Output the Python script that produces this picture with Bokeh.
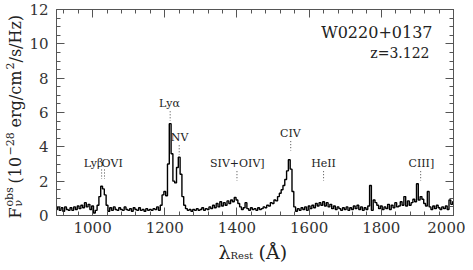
import math
from bokeh.plotting import figure
from bokeh.models import Range1d, LinearAxis, SingleIntervalTicker, Label, CustomJSTickFormatter
from bokeh.core.properties import value
from bokeh.embed import file_html
from bokeh.resources import INLINE

# ---------------- data ----------------
wave_start = 900
wave_step = 5
flux = [
    0.35, 0.50, 0.30, 0.45, 0.25, 0.50, 0.35, 0.30, 0.45, 0.30,   # 900-945
    0.50, 0.35, 0.55, 0.40, 0.60, 0.45, 0.75, 0.50, 0.65, 0.35,   # 950-995
    0.55, 0.15, 0.30, 0.60, 1.10, 1.70, 1.55, 1.20, 0.60, 0.25,   # 1000-1045
    0.45, 0.30, 0.50, 0.35, 0.30, 0.45, 0.35, 0.30, 0.50, 0.35,   # 1050-1095
    0.30, 0.40, 0.25, 0.45, 0.35, 0.30, 0.45, 0.30, 0.35, 0.25,   # 1100-1145
    0.40, 0.30, 0.35, 0.30, 0.40, 0.35, 0.50, 0.30, 0.60, 1.20,   # 1150-1195
    1.40, 1.15, 3.00, 5.35, 3.60, 2.00, 1.90, 2.80, 3.40, 2.40,   # 1200-1245
    1.10, 0.60, 0.40, 0.30, 0.35, 0.25, 0.35, 0.30, 0.40, 0.30,   # 1250-1295
    0.35, 0.45, 0.30, 0.40, 0.35, 0.50, 0.40, 0.60, 0.45, 0.70,   # 1300-1345
    0.50, 0.80, 0.55, 0.75, 0.60, 0.85, 0.70, 0.90, 0.80, 1.05,   # 1350-1395
    0.90, 0.70, 0.50, 0.35, 0.45, 0.75, 0.40, 0.30, 0.45, 0.35,   # 1400-1445
    0.40, 0.30, 0.45, 0.35, 0.40, 0.50, 0.45, 0.60, 0.55, 0.75,   # 1450-1495
    0.70, 0.90, 0.85, 1.10, 1.30, 1.50, 1.75, 2.10, 2.60, 3.25,   # 1500-1545
    2.70, 1.40, 0.50, 0.25, 0.40, 0.30, 0.45, 0.35, 0.50, 0.30,   # 1550-1595
    0.55, 0.40, 0.60, 0.45, 0.70, 0.55, 0.75, 0.60, 0.80, 0.55,   # 1600-1645
    0.75, 0.50, 0.65, 0.40, 0.55, 0.35, 0.50, 0.40, 0.30, 0.45,   # 1650-1695
    0.35, 0.50, 0.30, 0.45, 0.35, 0.55, 0.40, 0.60, 0.35, 0.50,   # 1700-1745
    0.30, 0.45, 0.35, 0.55, 1.75, 0.30, 0.90, 0.75, 0.60, 0.40,   # 1750-1795
    0.55, 0.35, 0.50, 0.40, 0.65, 0.35, 0.60, 0.45, 0.75, 0.50,   # 1800-1845
    0.55, 0.80, 0.60, 1.10, 0.55, 0.85, 0.60, 0.75, 0.95, 0.80,   # 1850-1895
    1.85, 0.90, 1.10, 0.95, 0.70, 0.55, 1.40, 0.50, 0.35, 0.55,   # 1900-1945
    0.40, 0.60, 0.45, 0.35, 0.50, 0.40, 0.55, 0.35, 0.90, 0.65,   # 1950-1995
    0.80,                                                         # 2000
]
wave = [wave_start + i * wave_step for i in range(len(flux))]

x_min, x_max = 900, 2000
y_min, y_max = 0, 12

line_names = ["Lyα", "NV", "SIV+OIV]", "CIV", "HeII", "CIII]"]
line_wave = [1213, 1241, 1401, 1548, 1640, 1911]
line_label_y = [6.52, 4.54, 3.03, 4.78, 3.03, 3.03]
line_mark_wave = [1215, 1240, 1400, 1549, 1640, 1909]

lyb_ovi_wave = [1025, 1033]
lyb_ovi_label_y = 3.03

object_name = "W0220+0137"
redshift_text = "z=3.122"

x_ticks_interval = 200
y_ticks_interval = 2

# ---------------- layout (canvas pixels of the data box) ----------------
W, H = 465, 262
BOX_L, BOX_R, BOX_T, BOX_B = 56, 453, 9, 215
sx = (BOX_R - BOX_L) / (x_max - x_min)
sy = (BOX_B - BOX_T) / (y_max - y_min)

def dx(px):
    return x_min + (px - BOX_L) / sx

def dy(py):
    return y_min + (BOX_B - py) / sy

FONT = "DejaVu Serif"
FRAME = "#555555"
TXT = "#222222"

p = figure(width=W, height=H, output_backend="svg", toolbar_location=None,
           x_range=Range1d(dx(0), dx(W)), y_range=Range1d(dy(H), dy(0)),
           min_border=0, x_axis_location=None, y_axis_location=None)
p.xgrid.visible = False
p.ygrid.visible = False
p.outline_line_color = None
p.background_fill_color = "white"
p.border_fill_color = "white"

xt = SingleIntervalTicker(interval=x_ticks_interval, num_minor_ticks=5)
yt = SingleIntervalTicker(interval=y_ticks_interval, num_minor_ticks=4)
blank = CustomJSTickFormatter(code="return '';")

ax_b = LinearAxis(ticker=xt, fixed_location=y_min, bounds=(x_min, x_max))
ax_t = LinearAxis(ticker=xt, fixed_location=y_max, bounds=(x_min, x_max), formatter=blank)
ax_l = LinearAxis(ticker=yt, fixed_location=x_min, bounds=(y_min, y_max))
ax_r = LinearAxis(ticker=yt, fixed_location=x_max, bounds=(y_min, y_max), formatter=blank)
p.add_layout(ax_b, "below")
p.add_layout(ax_t, "above")
p.add_layout(ax_l, "left")
p.add_layout(ax_r, "right")

for ax in (ax_b, ax_t, ax_l, ax_r):
    ax.axis_line_color = FRAME
    ax.major_tick_line_color = FRAME
    ax.minor_tick_line_color = FRAME
    ax.major_tick_in = 8
    ax.major_tick_out = 0
    ax.minor_tick_in = 4
    ax.minor_tick_out = 0
    ax.major_label_text_font = FONT
    ax.major_label_text_font_size = "15px"
    ax.major_label_text_color = "#333333"
ax_b.major_label_standoff = 6
ax_l.major_label_standoff = 8
ax_t.major_label_standoff = 0
ax_r.major_label_standoff = 0

# spectrum
p.step(wave, flux, mode="center", line_color="black", line_width=1.4)

# line identifications
p.text(x=line_wave, y=line_label_y, text=line_names, text_font=value(FONT),
       text_font_size="11px", text_align="center", text_baseline="middle",
       text_color=TXT)
p.segment(x0=line_mark_wave, x1=line_mark_wave,
          y0=[v - 0.45 for v in line_label_y], y1=[v - 1.0 for v in line_label_y],
          line_color="#444444", line_width=1, line_dash="1 2")
p.text(x=[lyb_ovi_wave[1] - 3], y=[lyb_ovi_label_y], text=["Lyβ"], text_font=value(FONT),
       text_font_size="11px", text_align="right", text_baseline="middle", text_color=TXT)
p.text(x=[lyb_ovi_wave[0]], y=[lyb_ovi_label_y], text=["OVI"], text_font=value(FONT),
       text_font_size="11px", text_align="left", text_baseline="middle", text_color=TXT)
p.segment(x0=lyb_ovi_wave, x1=lyb_ovi_wave,
          y0=[lyb_ovi_label_y - 0.35] * 2, y1=[lyb_ovi_label_y - 0.9] * 2,
          line_color="#444444", line_width=1, line_dash="1 2")

# object name and redshift
p.add_layout(Label(x=dx(432), y=dy(32), text=object_name, text_font=FONT, text_font_size="16px",
                   text_align="right", text_baseline="middle", text_color=TXT))
p.add_layout(Label(x=dx(429), y=dy(52), text=redshift_text, text_font=FONT, text_font_size="14px",
                   text_align="right", text_baseline="middle", text_color=TXT))

# ---- axis titles built from pieces (canvas px -> data) ----
def lab(text, px, py, size, angle=0.0):
    p.add_layout(Label(x=dx(px), y=dy(py), text=text, text_font=FONT,
                       text_font_size=size, angle=angle, text_align="left",
                       text_baseline="alphabetic", text_color=TXT))

# x title: lambda_Rest (Å)
lab("λ", 218, 251, "19px")
lab("Rest", 230, 255, "10px")
lab("(Å)", 258, 251, "19px")

# y title: F_nu^obs (10^-28 erg/cm^2/s/Hz), rotated, reading upwards
R = math.pi / 2
lab("F", 15, 218, "16px", R)
lab("obs", 9, 206, "11px", R)
lab("ν", 18, 206, "11px", R)
lab("(10", 15, 183, "16px", R)
lab("−28", 9, 155, "11px", R)
lab("erg/cm", 15, 127, "16px", R)
lab("2", 9, 69, "11px", R)
lab("/s/Hz)", 15, 62, "16px", R)

open("out.html", "w").write(file_html(p, INLINE))
